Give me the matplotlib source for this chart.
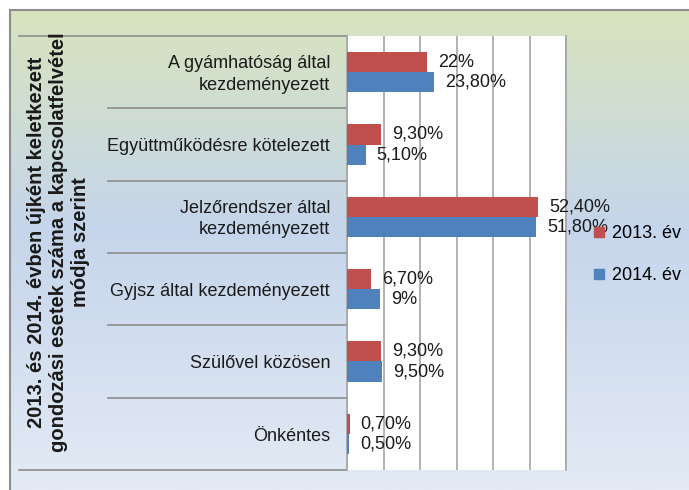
import numpy as np
import matplotlib
matplotlib.use("Agg")
import matplotlib.pyplot as plt
from matplotlib.colors import LinearSegmentedColormap
from matplotlib.lines import Line2D
import matplotlib.transforms as mtransforms

plt.rcParams['font.family'] = ['Liberation Sans Narrow', 'Liberation Sans', 'DejaVu Sans']

# data
categories = ["A gyámhatóság által\nkezdeményezett",
              "Együttműködésre kötelezett",
              "Jelzőrendszer által\nkezdeményezett",
              "Gyjsz által kezdeményezett",
              "Szülővel közösen",
              "Önkéntes"]
values_2013 = [22, 9.3, 52.4, 6.7, 9.3, 0.7]
values_2014 = [23.8, 5.1, 51.8, 9, 9.5, 0.5]
labels_2013 = ["22%", "9,30%", "52,40%", "6,70%", "9,30%", "0,70%"]
labels_2014 = ["23,80%", "5,10%", "51,80%", "9%", "9,50%", "0,50%"]
series_names = ["2013. év", "2014. év"]
ylabel = ("2013. és 2014. évben újként keletkezett\n"
          "gondozási esetek száma a kapcsolatfelvétel\n"
          "módja szerint")

W, H = 689, 490
red = "#c0504d"
blue = "#4f81bd"
grid_col = "#a6a6a6"

fig = plt.figure(figsize=(W / 100, H / 100), dpi=100)
fig.patch.set_facecolor("white")

# gradient background of the chart area
bg = fig.add_axes([10 / W, 0, 1.02 - 10 / W, 1 - 10 / H])
cmap = LinearSegmentedColormap.from_list(
    "bg", [(0, "#d8e4bd"), (0.45, "#c5d5eb"), (1, "#e3eaf5")])
grad = np.linspace(0, 1, 256).reshape(-1, 1)
bg.imshow(grad, aspect="auto", cmap=cmap, extent=[0, 1, 0, 1], origin="upper")
bg.set_xlim(0, 1)
bg.set_ylim(0, 1)
bg.axis("off")
fig.add_artist(Line2D([9.5 / W, 9.5 / W], [0, 1 - 10 / H], color="#8c8c8c", lw=1.5))
fig.add_artist(Line2D([9.5 / W, 1.01], [1 - 10 / H, 1 - 10 / H], color="#8c8c8c", lw=1.5))

ax = fig.add_axes([347 / W, 20 / H, (566 - 347) / W, (470 - 36) / H])
ax.set_facecolor("white")

y = np.arange(len(categories))
h = 0.277
ax.barh(y - h / 2, values_2013, height=h, color=red, label=series_names[0], zorder=3)
ax.barh(y + h / 2, values_2014, height=h, color=blue, label=series_names[1], zorder=3)

for i in range(len(categories)):
    ax.annotate(labels_2013[i], (values_2013[i], y[i] - h / 2), xytext=(8, 0),
                textcoords="offset points", va="center", ha="left", fontsize=13,
                color="#1a1a1a", zorder=4)
    ax.annotate(labels_2014[i], (values_2014[i], y[i] + h / 2), xytext=(8, 0),
                textcoords="offset points", va="center", ha="left", fontsize=13,
                color="#1a1a1a", zorder=4)

ax.set_xlim(0, 60)
ax.set_ylim(len(categories) - 0.5, -0.5)
ax.set_xticks(np.arange(0, 61, 10))
ax.xaxis.grid(True, color=grid_col, lw=1.2, zorder=0)
ax.tick_params(length=0, labelbottom=False, labelleft=False)
ax.set_yticks([])
for s in ["top", "bottom"]:
    ax.spines[s].set_visible(False)
for s in ["left", "right"]:
    ax.spines[s].set_color(grid_col)
    ax.spines[s].set_linewidth(1.2)

# category table on the left
trans = mtransforms.blended_transform_factory(fig.transFigure, ax.transData)
for i, cat in enumerate(categories):
    ax.text(330 / W, y[i] + 0.03, cat, transform=trans, ha="right", va="center",
            fontsize=13, linespacing=1.35, color="#1a1a1a")
for b in np.arange(-0.5, len(categories)):
    x0 = 19 / W if b in (-0.5, len(categories) - 0.5) else 108 / W
    ax.add_line(Line2D([x0, 347 / W], [b, b], transform=trans, color="#8c8c8c",
                       lw=1.2, clip_on=False))

fig.text(59 / W, 248 / H, ylabel, rotation=90, ha="center", va="center",
         fontsize=14.5, fontweight="bold", linespacing=1.2, color="#1a1a1a")

handles = [Line2D([], [], marker="s", ls="none", color=c, markersize=7) for c in (red, blue)]
fig.legend(handles, series_names, loc="upper left", bbox_to_anchor=(594 / W, 1 - 225 / H),
           frameon=False, fontsize=13, handlelength=0.6, handletextpad=0.4,
           labelspacing=1.4, borderpad=0, borderaxespad=0)

fig.savefig("out.png", dpi=100)
